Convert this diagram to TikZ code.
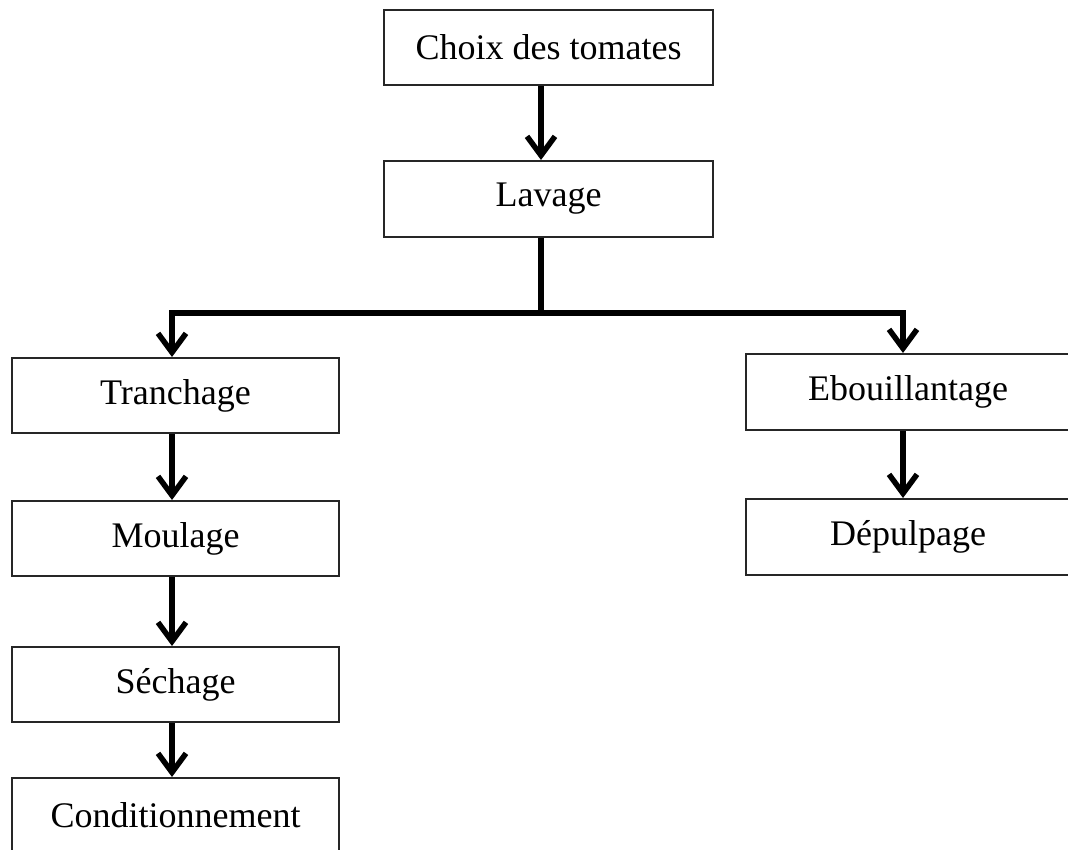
\documentclass[tikz,border=0pt]{standalone}
\usepackage{fontspec}
\setmainfont{Liberation Serif}
\usetikzlibrary{arrows.meta}
\begin{document}
\begin{tikzpicture}[x=1pt,y=-1pt,
  stepbox/.style={draw=black!85, line width=2pt, fill=white,
    minimum width=#1, minimum height=75pt, inner sep=0pt,
    font=\fontsize{36}{40}\selectfont},
  link/.style={line width=5.5pt, draw=black},
  flow/.style={link, -{Straight Barb[length=19pt,width=28pt,line width=5.5pt]}}]
\useasboundingbox (0,0) rectangle (1068,850);

% process steps
\node[stepbox=329pt] (choix) at (548.5,47.5) {Choix des tomates};
\node[stepbox=329pt, minimum height=76pt] (lav) at (548.5,199) {Lavage};
\node[stepbox=327pt] (tr) at (175.5,395.5) {Tranchage};
\node[stepbox=327pt] (mou) at (175.5,538.5) {Moulage};
\node[stepbox=327pt] (sec) at (175.5,684.5) {Séchage};
\node[stepbox=327pt] (cond) at (175.5,815.5) {Conditionnement};
\node[stepbox=324pt, minimum height=76pt] (ebo) at (908,392) {Ebouillantage};
\node[stepbox=324pt, minimum height=76pt] (dep) at (908,537) {Dépulpage};

% branching point below the washing step
\coordinate (split) at (541,313);

% connectors
\draw[flow] ([xshift=-7.5pt]choix.south) -- ([xshift=-7.5pt]lav.south |- lav.north);
\draw[link] ([xshift=-7.5pt]lav.south) -- (split);
\draw[flow] (split) -| ([xshift=-3.5pt]tr.north);
\draw[flow] (split) -| ([xshift=-5pt]ebo.north);
\draw[flow] ([xshift=-3.5pt]tr.south) -- ([xshift=-3.5pt]mou.north);
\draw[flow] ([xshift=-3.5pt]mou.south) -- ([xshift=-3.5pt]sec.north);
\draw[flow] ([xshift=-3.5pt]sec.south) -- ([xshift=-3.5pt]cond.north);
\draw[flow] ([xshift=-5pt]ebo.south) -- ([xshift=-5pt]dep.north);
\end{tikzpicture}
\end{document}
